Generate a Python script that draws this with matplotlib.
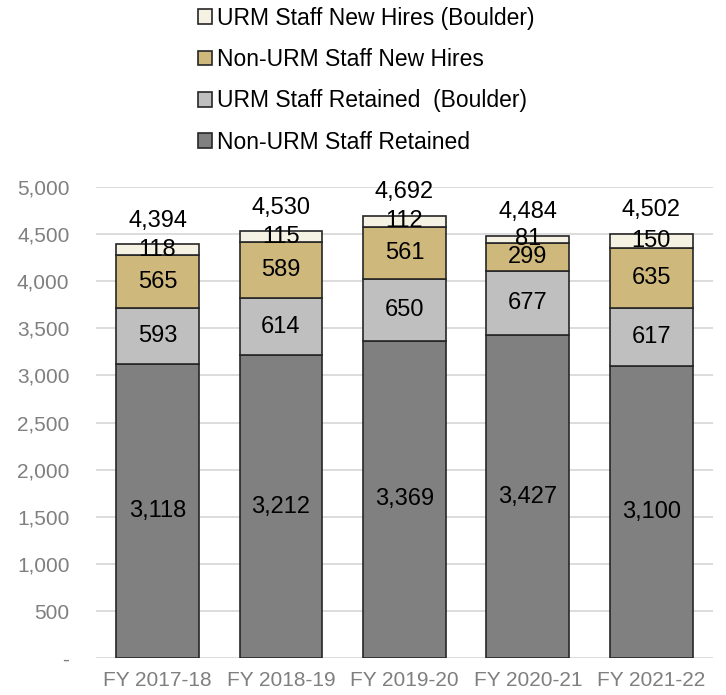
import matplotlib.pyplot as plt
import numpy as np

plt.rcParams['font.family'] = ['Liberation Sans', 'DejaVu Sans']

years = ['FY 2017-18', 'FY 2018-19', 'FY 2019-20', 'FY 2020-21', 'FY 2021-22']
non_urm_retained = [3118, 3212, 3369, 3427, 3100]
urm_retained = [593, 614, 650, 677, 617]
non_urm_hires = [565, 589, 561, 299, 635]
urm_hires = [118, 115, 112, 81, 150]
totals = [4394, 4530, 4692, 4484, 4502]

series = [
    ('Non-URM Staff Retained', non_urm_retained, '#808080'),
    ('URM Staff Retained  (Boulder)', urm_retained, '#bfbfbf'),
    ('Non-URM Staff New Hires', non_urm_hires, '#cfb87c'),
    ('URM Staff New Hires (Boulder)', urm_hires, '#f5f1e3'),
]

fig = plt.figure(figsize=(7.26, 6.95), dpi=100)
ax = fig.add_axes([0.132, 0.053, 0.85, 0.678])

x = np.arange(len(years))
bottom = np.zeros(len(years))
handles = []
for name, vals, color in series:
    bars = ax.bar(x, vals, width=0.67, bottom=bottom, color=color,
                  edgecolor='#262626', linewidth=1.2, label=name, zorder=3)
    handles.append(bars)
    for xi, b, v in zip(x, bottom, vals):
        ax.text(xi, b + v / 2, f'{v:,}', ha='center', va='center',
                fontsize=17, color='black', zorder=4)
    bottom += np.array(vals)

for xi, t in zip(x, totals):
    ax.annotate(f'{t:,}', (xi, t), xytext=(0, 9), textcoords='offset points',
                ha='center', va='bottom', fontsize=17, color='black')

ax.set_xlim(-0.5, len(years) - 0.5)
ax.set_ylim(0, 5000)
yt = np.arange(0, 5001, 500)
ax.set_yticks(yt)
ax.set_yticklabels(['-'] + [f'{v:,}' for v in yt[1:]])
ax.set_xticks(x)
ax.set_xticklabels(years)
ax.tick_params(axis='both', length=0, labelsize=15, colors='#7f7f7f')
ax.tick_params(axis='y', pad=19)
ax.tick_params(axis='x', pad=9)
ax.yaxis.grid(True, color='#d9d9d9', linewidth=1.3, zorder=0)
ax.set_axisbelow(True)
for s in ax.spines.values():
    s.set_visible(False)

leg = fig.legend(handles[::-1], [s[0] for s in series[::-1]],
                 loc='upper left', bbox_to_anchor=(0.244, 1.02), frameon=False,
                 fontsize=16.5, handlelength=0.6, handleheight=0.6,
                 handletextpad=0.25, labelspacing=0.8)

fig.savefig('out.png', dpi=100)
